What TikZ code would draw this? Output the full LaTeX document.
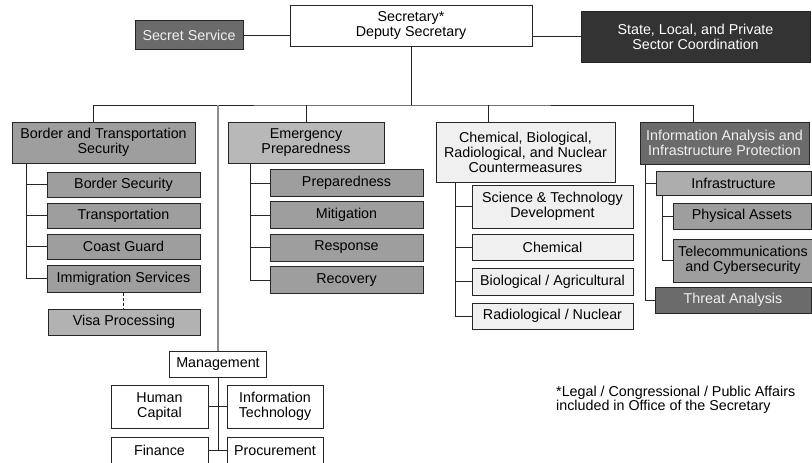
\documentclass[tikz,border=0pt]{standalone}
\usepackage{fontspec}
\setmainfont{Liberation Sans}
\begin{document}
\begin{tikzpicture}[x=1pt, y=-1pt,
  box/.style={draw=black!85, line width=1pt, inner sep=0pt, align=center,
    font=\fontsize{14.3pt}{15pt}\selectfont},
  conn/.style={line width=0.9pt, black!85},
  mgline/.style={line width=1.3pt, black!45},
  darkbox/.style={box, fill=black!58, text=black!6},
  midbox/.style={box, fill=black!38},
  lightbox/.style={box, fill=black!6},
  note/.style={inner sep=0pt, align=left, font=\fontsize{14.3pt}{13.5pt}\selectfont}]
\useasboundingbox (0,0) rectangle (812,463);
\clip (0,0) rectangle (812,463);

% top
\node[box, minimum width=242pt, minimum height=41pt] (sec) at (411,25.5) {Secretary*\\Deputy Secretary};
\node[darkbox, minimum width=108pt, minimum height=29pt] (ss) at (189,35) {Secret Service};
\node[box, fill=black!80, text=white, minimum width=229pt, minimum height=51pt] (slp) at (695.5,36.5) {State, Local, and Private\\Sector Coordination};
\draw[conn] (ss) -- (ss -| sec.west);
\draw[conn] (slp.west -| sec.east) -- (slp);

% directorates
\coordinate (bus) at (411,105);
\draw[conn] (sec) -- (bus);
\node[midbox, minimum width=183pt, minimum height=41pt] (bts) at (103.5,142.5) {Border and Transportation\\Security};
\node[box, fill=black!28, minimum width=156pt, minimum height=41pt] (ep) at (306,142.5) {Emergency\\Preparedness};
\node[lightbox, minimum width=179pt, minimum height=60pt] (cbrn) at (525.5,152) {Chemical, Biological,\\Radiological, and Nuclear\\Countermeasures};
\node[darkbox, minimum width=169pt, minimum height=42pt] (iaip) at (724.5,143) {Information Analysis and\\Infrastructure Protection};
\coordinate (btstop) at ([xshift=-10.5pt]bts.north);
\coordinate (cbrntop) at ([xshift=-37.5pt]cbrn.north);
\coordinate (iaiptop) at ([xshift=-31.5pt]iaip.north);
\draw[conn] (btstop) |- (bus) -| (iaiptop);
\draw[conn] (ep) -- (ep |- bus);
\draw[conn] (cbrntop) -- (cbrntop |- bus);

% border and transportation
\node[midbox, minimum width=153pt, minimum height=25pt] (bs) at (123.5,184.5) {Border Security};
\node[midbox, minimum width=153pt, minimum height=25pt] (tr) at (123.5,215.5) {Transportation};
\node[midbox, minimum width=153pt, minimum height=25pt] (cg) at (123.5,246.5) {Coast Guard};
\node[midbox, minimum width=153pt, minimum height=27pt] (imm) at (123.5,278.5) {Immigration Services};
\node[box, fill=black!30, minimum width=152pt, minimum height=26pt] (visa) at (124,322) {Visa Processing};
\coordinate (btsspine) at ([xshift=15pt]bts.south west);
\draw[conn] (btsspine) |- (imm);
\foreach \n in {bs,tr,cg}
  \draw[conn] (\n) -- (\n -| btsspine);
\draw[conn, dash pattern=on 3pt off 2pt] (imm) -- (imm |- visa.north);

% emergency preparedness
\node[midbox, minimum width=153pt, minimum height=27pt] (prep) at (346.5,183) {Preparedness};
\node[midbox, minimum width=153pt, minimum height=27pt] (mit) at (346.5,215) {Mitigation};
\node[midbox, minimum width=153pt, minimum height=27pt] (resp) at (346.5,247.5) {Response};
\node[midbox, minimum width=153pt, minimum height=27pt] (rec) at (346.5,280) {Recovery};
\coordinate (epspine) at ([xshift=23pt]ep.south west);
\draw[conn] (epspine) |- (rec);
\foreach \n in {prep,mit,resp}
  \draw[conn] (\n) -- (\n -| epspine);

% chemical, biological, radiological, nuclear
\node[lightbox, minimum width=161pt, minimum height=43pt] (st) at (552.5,206.5) {Science \& Technology\\Development};
\node[lightbox, minimum width=161pt, minimum height=26pt] (chem) at (552.5,247) {Chemical};
\node[lightbox, minimum width=161pt, minimum height=27pt] (bio) at (552.5,281.5) {Biological / Agricultural};
\node[lightbox, minimum width=161pt, minimum height=26pt] (rad) at (552.5,316) {Radiological / Nuclear};
\coordinate (cbrnspine) at ([xshift=20pt]cbrn.south west);
\draw[conn] (cbrnspine) |- (rad);
\foreach \n in {st,chem,bio}
  \draw[conn] (\n) -- (\n -| cbrnspine);

% information analysis and infrastructure protection
\node[box, fill=black!32, minimum width=155pt, minimum height=24pt] (infra) at (733.5,183) {Infrastructure};
\node[midbox, minimum width=138pt, minimum height=26pt] (pa) at (742,216) {Physical Assets};
\node[midbox, minimum width=140pt, minimum height=43pt] (tel) at (743,260.5) {Telecommunications\\and Cybersecurity};
\node[darkbox, minimum width=156pt, minimum height=26pt] (ta) at (733,300) {Threat Analysis};
\coordinate (iaipspine) at ([xshift=6pt]iaip.south west);
\draw[conn] (iaipspine) |- (ta);
\draw[conn] (infra) -- (infra -| iaipspine);
\coordinate (infraspine) at ([xshift=7pt]infra.south west);
\draw[conn] (infraspine) |- (tel);
\draw[conn] (pa) -- (pa -| infraspine);

% management
\node[box, minimum width=97pt, minimum height=26pt] (mgmt) at (218,364) {Management};
\draw[mgline] (mgmt) -- (mgmt |- bus);
\node[box, minimum width=97pt, minimum height=43pt] (hc) at (159.5,406.5) {Human\\Capital};
\node[box, minimum width=96pt, minimum height=43pt] (it) at (275,406.5) {Information\\Technology};
\node[box, minimum width=97pt, minimum height=27pt] (fin) at (159.5,450.5) {Finance};
\node[box, minimum width=96pt, minimum height=27pt] (proc) at (275,450.5) {Procurement};
\draw[conn] (mgmt) -- (mgmt |- fin);
\draw[conn] (hc) -- (it);
\draw[conn] (fin) -- (proc);

% footnote
\node[note, anchor=north west] (fn) at (556,386) {*Legal / Congressional / Public Affairs\\included in Office of the Secretary};
\end{tikzpicture}
\end{document}
